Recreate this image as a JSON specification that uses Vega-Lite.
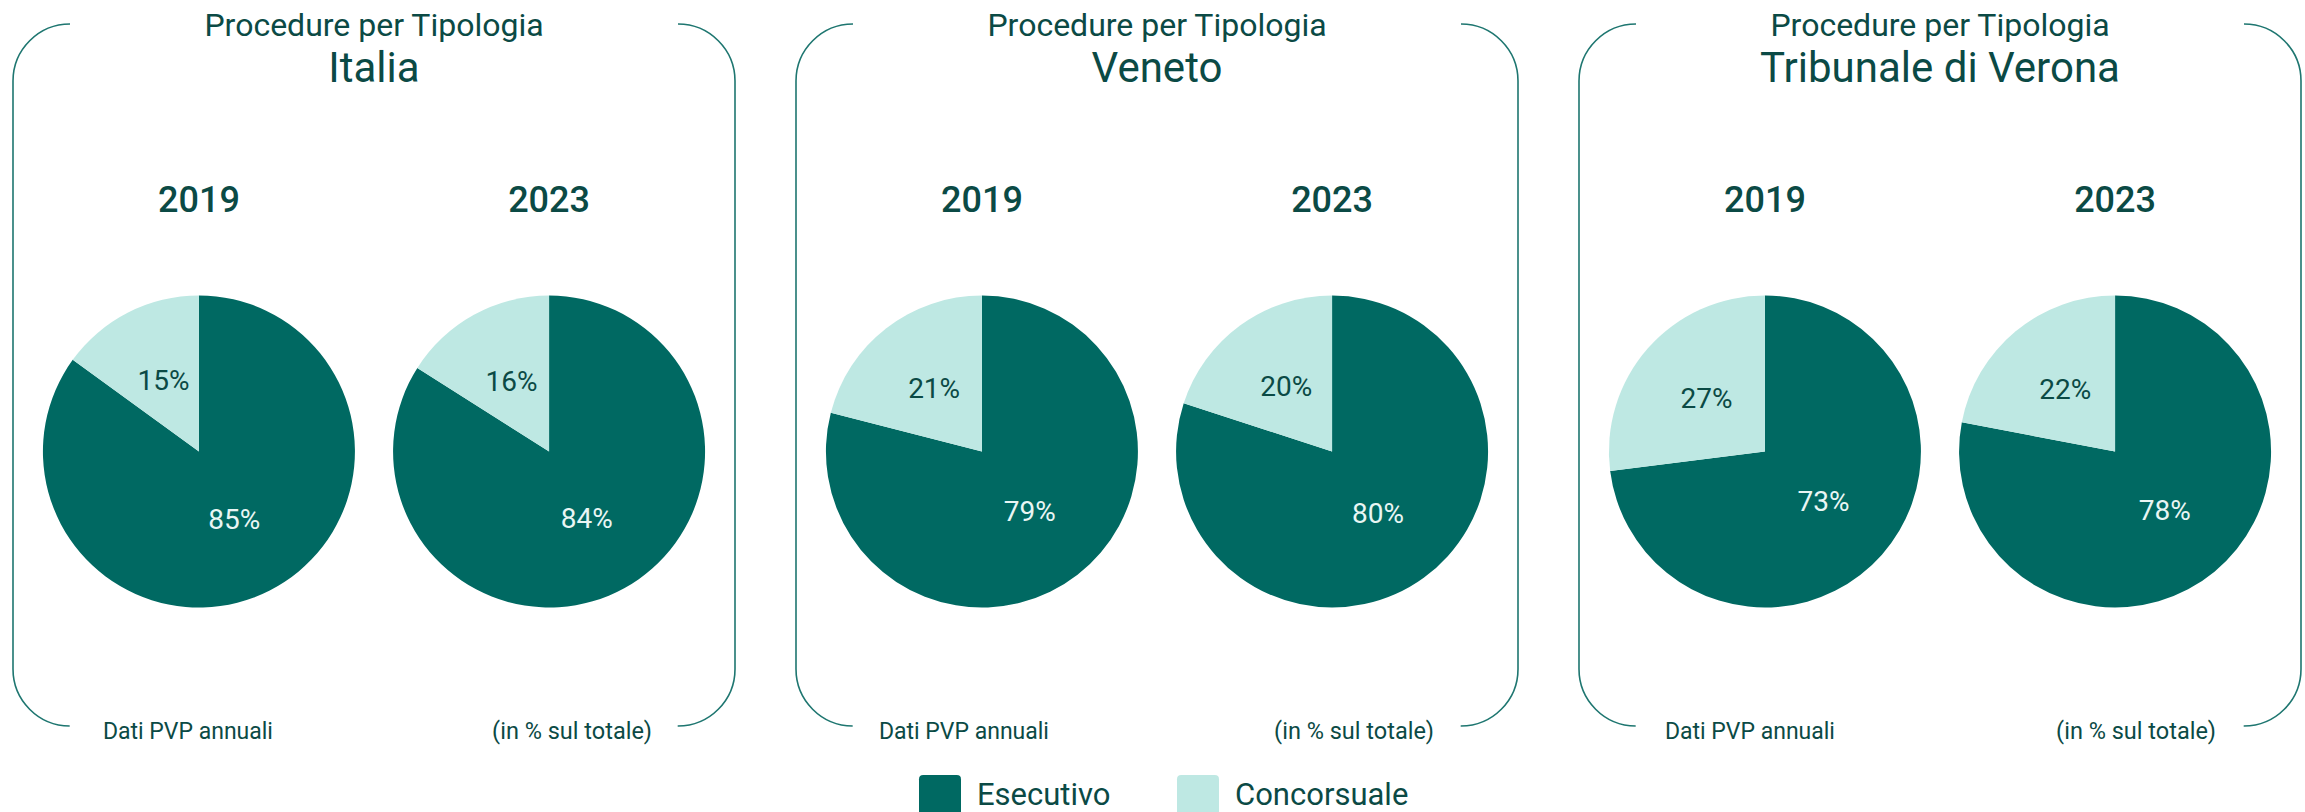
{
  "$schema": "https://vega.github.io/schema/vega-lite/v6.json",
  "background": "white",
  "padding": {"left": 12, "top": 9, "right": 0, "bottom": 0},
  "data": {"values": [
    {"area": "Italia", "anno": "2019", "tipo": "Esecutivo", "quota": 0.85},
    {"area": "Italia", "anno": "2019", "tipo": "Concorsuale", "quota": 0.15},
    {"area": "Italia", "anno": "2023", "tipo": "Esecutivo", "quota": 0.84},
    {"area": "Italia", "anno": "2023", "tipo": "Concorsuale", "quota": 0.16},
    {"area": "Veneto", "anno": "2019", "tipo": "Esecutivo", "quota": 0.79},
    {"area": "Veneto", "anno": "2019", "tipo": "Concorsuale", "quota": 0.21},
    {"area": "Veneto", "anno": "2023", "tipo": "Esecutivo", "quota": 0.80},
    {"area": "Veneto", "anno": "2023", "tipo": "Concorsuale", "quota": 0.20},
    {"area": "Tribunale di Verona", "anno": "2019", "tipo": "Esecutivo", "quota": 0.73},
    {"area": "Tribunale di Verona", "anno": "2019", "tipo": "Concorsuale", "quota": 0.27},
    {"area": "Tribunale di Verona", "anno": "2023", "tipo": "Esecutivo", "quota": 0.78},
    {"area": "Tribunale di Verona", "anno": "2023", "tipo": "Concorsuale", "quota": 0.22}
  ]},
  "spacing": 59,
  "resolve": {"scale": {"color": "shared", "x": "independent", "y": "independent", "theta": "independent"}, "legend": {"color": "shared"}},
  "hconcat": [
    {
      "width": 722, "height": 702,
      "title": {"text": "Procedure per Tipologia", "subtitle": "Italia"},
      "transform": [{"filter": "datum.area === 'Italia'"}],
      "encoding": {
        "x": {"field": "anno", "type": "ordinal", "scale": {"type": "point", "domain": ["2019", "2023"], "padding": 0.531}, "axis": null},
        "y": {"datum": "torta", "type": "nominal", "scale": {"type": "point", "domain": ["anno", "torta", "nota"], "range": [177, 708], "padding": 0}, "axis": null}
      },
      "layer": [
        {"transform": [{"filter": "datum.anno === '2019'"}],
         "mark": {"type": "arc", "outerRadius": 156, "yOffset": -15},
         "encoding": {
           "theta": {"field": "quota", "type": "quantitative", "stack": true, "scale": {"domain": [0, 1]}},
           "order": {"field": "tipo", "sort": "descending"},
           "color": {"field": "tipo", "type": "nominal", "scale": {"domain": ["Esecutivo", "Concorsuale"], "range": ["#006962", "#BEE8E3"]},
             "legend": {"orient": "none", "legendX": 906, "legendY": 751, "direction": "horizontal", "title": null, "padding": 0,
               "symbolType": "M -0.8 -1 L 0.8 -1 Q 1 -1 1 -0.8 L 1 0.8 Q 1 1 0.8 1 L -0.8 1 Q -1 1 -1 0.8 L -1 -0.8 Q -1 -1 -0.8 -1 Z",
               "symbolSize": 1764, "symbolStrokeWidth": 0, "symbolOpacity": 1, "labelFontSize": 31, "labelFont": "Roboto", "labelColor": "#0B4A45", "labelOffset": 16, "columnPadding": 66, "labelLimit": 0}}
         }},
        {"transform": [{"filter": "datum.anno === '2023'"}],
         "mark": {"type": "arc", "outerRadius": 156, "yOffset": -15},
         "encoding": {
           "theta": {"field": "quota", "type": "quantitative", "stack": true, "scale": {"domain": [0, 1]}},
           "order": {"field": "tipo", "sort": "descending"},
           "color": {"field": "tipo", "type": "nominal"}
         }},
        {"transform": [{"filter": "datum.anno === '2019'"}],
         "mark": {"type": "text", "radius": 78, "yOffset": -15, "fontSize": 28, "fontWeight": 400, "font": "Roboto"},
         "encoding": {
           "theta": {"field": "quota", "type": "quantitative", "stack": true, "scale": {"domain": [0, 1]}},
           "order": {"field": "tipo", "sort": "descending"},
           "text": {"field": "quota", "type": "quantitative", "format": ".0%"},
           "color": {"condition": {"test": "datum.tipo === 'Esecutivo'", "value": "#E9F6F4"}, "value": "#0B4A45"}
         }},
        {"transform": [{"filter": "datum.anno === '2023'"}],
         "mark": {"type": "text", "radius": 78, "yOffset": -15, "fontSize": 28, "fontWeight": 400, "font": "Roboto"},
         "encoding": {
           "theta": {"field": "quota", "type": "quantitative", "stack": true, "scale": {"domain": [0, 1]}},
           "order": {"field": "tipo", "sort": "descending"},
           "text": {"field": "quota", "type": "quantitative", "format": ".0%"},
           "color": {"condition": {"test": "datum.tipo === 'Esecutivo'", "value": "#E9F6F4"}, "value": "#0B4A45"}
         }},
        {"transform": [{"filter": "datum.tipo === 'Esecutivo'"}],
         "mark": {"type": "text", "fontSize": 36, "fontWeight": 500, "font": "Roboto", "color": "#0B4A45"},
         "encoding": {"y": {"datum": "anno", "type": "nominal"}, "text": {"field": "anno"}}},
        {"transform": [{"filter": "datum.tipo === 'Esecutivo' && datum.anno === '2019'"}],
         "mark": {"type": "text", "text": "Dati PVP annuali", "dx": -11, "fontSize": 23, "font": "Roboto", "color": "#0B4A45"},
         "encoding": {"y": {"datum": "nota", "type": "nominal"}}},
        {"transform": [{"filter": "datum.tipo === 'Esecutivo' && datum.anno === '2023'"}],
         "mark": {"type": "text", "text": "(in % sul totale)", "dx": 23, "fontSize": 23.5, "font": "Roboto", "color": "#0B4A45"},
         "encoding": {"y": {"datum": "nota", "type": "nominal"}}}
      ]
    },
    {
      "width": 722, "height": 702,
      "title": {"text": "Procedure per Tipologia", "subtitle": "Veneto"},
      "transform": [{"filter": "datum.area === 'Veneto'"}],
      "encoding": {
        "x": {"field": "anno", "type": "ordinal", "scale": {"type": "point", "domain": ["2019", "2023"], "padding": 0.531}, "axis": null},
        "y": {"datum": "torta", "type": "nominal", "scale": {"type": "point", "domain": ["anno", "torta", "nota"], "range": [177, 708], "padding": 0}, "axis": null}
      },
      "layer": [
        {"transform": [{"filter": "datum.anno === '2019'"}],
         "mark": {"type": "arc", "outerRadius": 156, "yOffset": -15},
         "encoding": {
           "theta": {"field": "quota", "type": "quantitative", "stack": true, "scale": {"domain": [0, 1]}},
           "order": {"field": "tipo", "sort": "descending"},
           "color": {"field": "tipo", "type": "nominal"}
         }},
        {"transform": [{"filter": "datum.anno === '2023'"}],
         "mark": {"type": "arc", "outerRadius": 156, "yOffset": -15},
         "encoding": {
           "theta": {"field": "quota", "type": "quantitative", "stack": true, "scale": {"domain": [0, 1]}},
           "order": {"field": "tipo", "sort": "descending"},
           "color": {"field": "tipo", "type": "nominal"}
         }},
        {"transform": [{"filter": "datum.anno === '2019'"}],
         "mark": {"type": "text", "radius": 78, "yOffset": -15, "fontSize": 28, "fontWeight": 400, "font": "Roboto"},
         "encoding": {
           "theta": {"field": "quota", "type": "quantitative", "stack": true, "scale": {"domain": [0, 1]}},
           "order": {"field": "tipo", "sort": "descending"},
           "text": {"field": "quota", "type": "quantitative", "format": ".0%"},
           "color": {"condition": {"test": "datum.tipo === 'Esecutivo'", "value": "#E9F6F4"}, "value": "#0B4A45"}
         }},
        {"transform": [{"filter": "datum.anno === '2023'"}],
         "mark": {"type": "text", "radius": 78, "yOffset": -15, "fontSize": 28, "fontWeight": 400, "font": "Roboto"},
         "encoding": {
           "theta": {"field": "quota", "type": "quantitative", "stack": true, "scale": {"domain": [0, 1]}},
           "order": {"field": "tipo", "sort": "descending"},
           "text": {"field": "quota", "type": "quantitative", "format": ".0%"},
           "color": {"condition": {"test": "datum.tipo === 'Esecutivo'", "value": "#E9F6F4"}, "value": "#0B4A45"}
         }},
        {"transform": [{"filter": "datum.tipo === 'Esecutivo'"}],
         "mark": {"type": "text", "fontSize": 36, "fontWeight": 500, "font": "Roboto", "color": "#0B4A45"},
         "encoding": {"y": {"datum": "anno", "type": "nominal"}, "text": {"field": "anno"}}},
        {"transform": [{"filter": "datum.tipo === 'Esecutivo' && datum.anno === '2019'"}],
         "mark": {"type": "text", "text": "Dati PVP annuali", "dx": -18, "fontSize": 23, "font": "Roboto", "color": "#0B4A45"},
         "encoding": {"y": {"datum": "nota", "type": "nominal"}}},
        {"transform": [{"filter": "datum.tipo === 'Esecutivo' && datum.anno === '2023'"}],
         "mark": {"type": "text", "text": "(in % sul totale)", "dx": 22, "fontSize": 23.5, "font": "Roboto", "color": "#0B4A45"},
         "encoding": {"y": {"datum": "nota", "type": "nominal"}}}
      ]
    },
    {
      "width": 722, "height": 702,
      "title": {"text": "Procedure per Tipologia", "subtitle": "Tribunale di Verona"},
      "transform": [{"filter": "datum.area === 'Tribunale di Verona'"}],
      "encoding": {
        "x": {"field": "anno", "type": "ordinal", "scale": {"type": "point", "domain": ["2019", "2023"], "padding": 0.531}, "axis": null},
        "y": {"datum": "torta", "type": "nominal", "scale": {"type": "point", "domain": ["anno", "torta", "nota"], "range": [177, 708], "padding": 0}, "axis": null}
      },
      "layer": [
        {"transform": [{"filter": "datum.anno === '2019'"}],
         "mark": {"type": "arc", "outerRadius": 156, "yOffset": -15},
         "encoding": {
           "theta": {"field": "quota", "type": "quantitative", "stack": true, "scale": {"domain": [0, 1]}},
           "order": {"field": "tipo", "sort": "descending"},
           "color": {"field": "tipo", "type": "nominal"}
         }},
        {"transform": [{"filter": "datum.anno === '2023'"}],
         "mark": {"type": "arc", "outerRadius": 156, "yOffset": -15},
         "encoding": {
           "theta": {"field": "quota", "type": "quantitative", "stack": true, "scale": {"domain": [0, 1]}},
           "order": {"field": "tipo", "sort": "descending"},
           "color": {"field": "tipo", "type": "nominal"}
         }},
        {"transform": [{"filter": "datum.anno === '2019'"}],
         "mark": {"type": "text", "radius": 78, "yOffset": -15, "fontSize": 28, "fontWeight": 400, "font": "Roboto"},
         "encoding": {
           "theta": {"field": "quota", "type": "quantitative", "stack": true, "scale": {"domain": [0, 1]}},
           "order": {"field": "tipo", "sort": "descending"},
           "text": {"field": "quota", "type": "quantitative", "format": ".0%"},
           "color": {"condition": {"test": "datum.tipo === 'Esecutivo'", "value": "#E9F6F4"}, "value": "#0B4A45"}
         }},
        {"transform": [{"filter": "datum.anno === '2023'"}],
         "mark": {"type": "text", "radius": 78, "yOffset": -15, "fontSize": 28, "fontWeight": 400, "font": "Roboto"},
         "encoding": {
           "theta": {"field": "quota", "type": "quantitative", "stack": true, "scale": {"domain": [0, 1]}},
           "order": {"field": "tipo", "sort": "descending"},
           "text": {"field": "quota", "type": "quantitative", "format": ".0%"},
           "color": {"condition": {"test": "datum.tipo === 'Esecutivo'", "value": "#E9F6F4"}, "value": "#0B4A45"}
         }},
        {"transform": [{"filter": "datum.tipo === 'Esecutivo'"}],
         "mark": {"type": "text", "fontSize": 36, "fontWeight": 500, "font": "Roboto", "color": "#0B4A45"},
         "encoding": {"y": {"datum": "anno", "type": "nominal"}, "text": {"field": "anno"}}},
        {"transform": [{"filter": "datum.tipo === 'Esecutivo' && datum.anno === '2019'"}],
         "mark": {"type": "text", "text": "Dati PVP annuali", "dx": -15, "fontSize": 23, "font": "Roboto", "color": "#0B4A45"},
         "encoding": {"y": {"datum": "nota", "type": "nominal"}}},
        {"transform": [{"filter": "datum.tipo === 'Esecutivo' && datum.anno === '2023'"}],
         "mark": {"type": "text", "text": "(in % sul totale)", "dx": 21, "fontSize": 23.5, "font": "Roboto", "color": "#0B4A45"},
         "encoding": {"y": {"datum": "nota", "type": "nominal"}}}
      ]
    }
  ],
  "config": {
    "font": "Roboto",
    "view": {"stroke": "#1E7670", "strokeWidth": 1.6, "cornerRadius": 57, "strokeDash": [767.1, 608], "strokeDashOffset": 767.1},
    "title": {"anchor": "middle", "frame": "group", "font": "Roboto", "fontSize": 32, "fontWeight": 400, "color": "#0B4A45",
      "subtitleFont": "Roboto", "subtitleFontSize": 42, "subtitleFontWeight": 400, "subtitleColor": "#0B4A45", "subtitlePadding": 6, "offset": -67}
  }
}
